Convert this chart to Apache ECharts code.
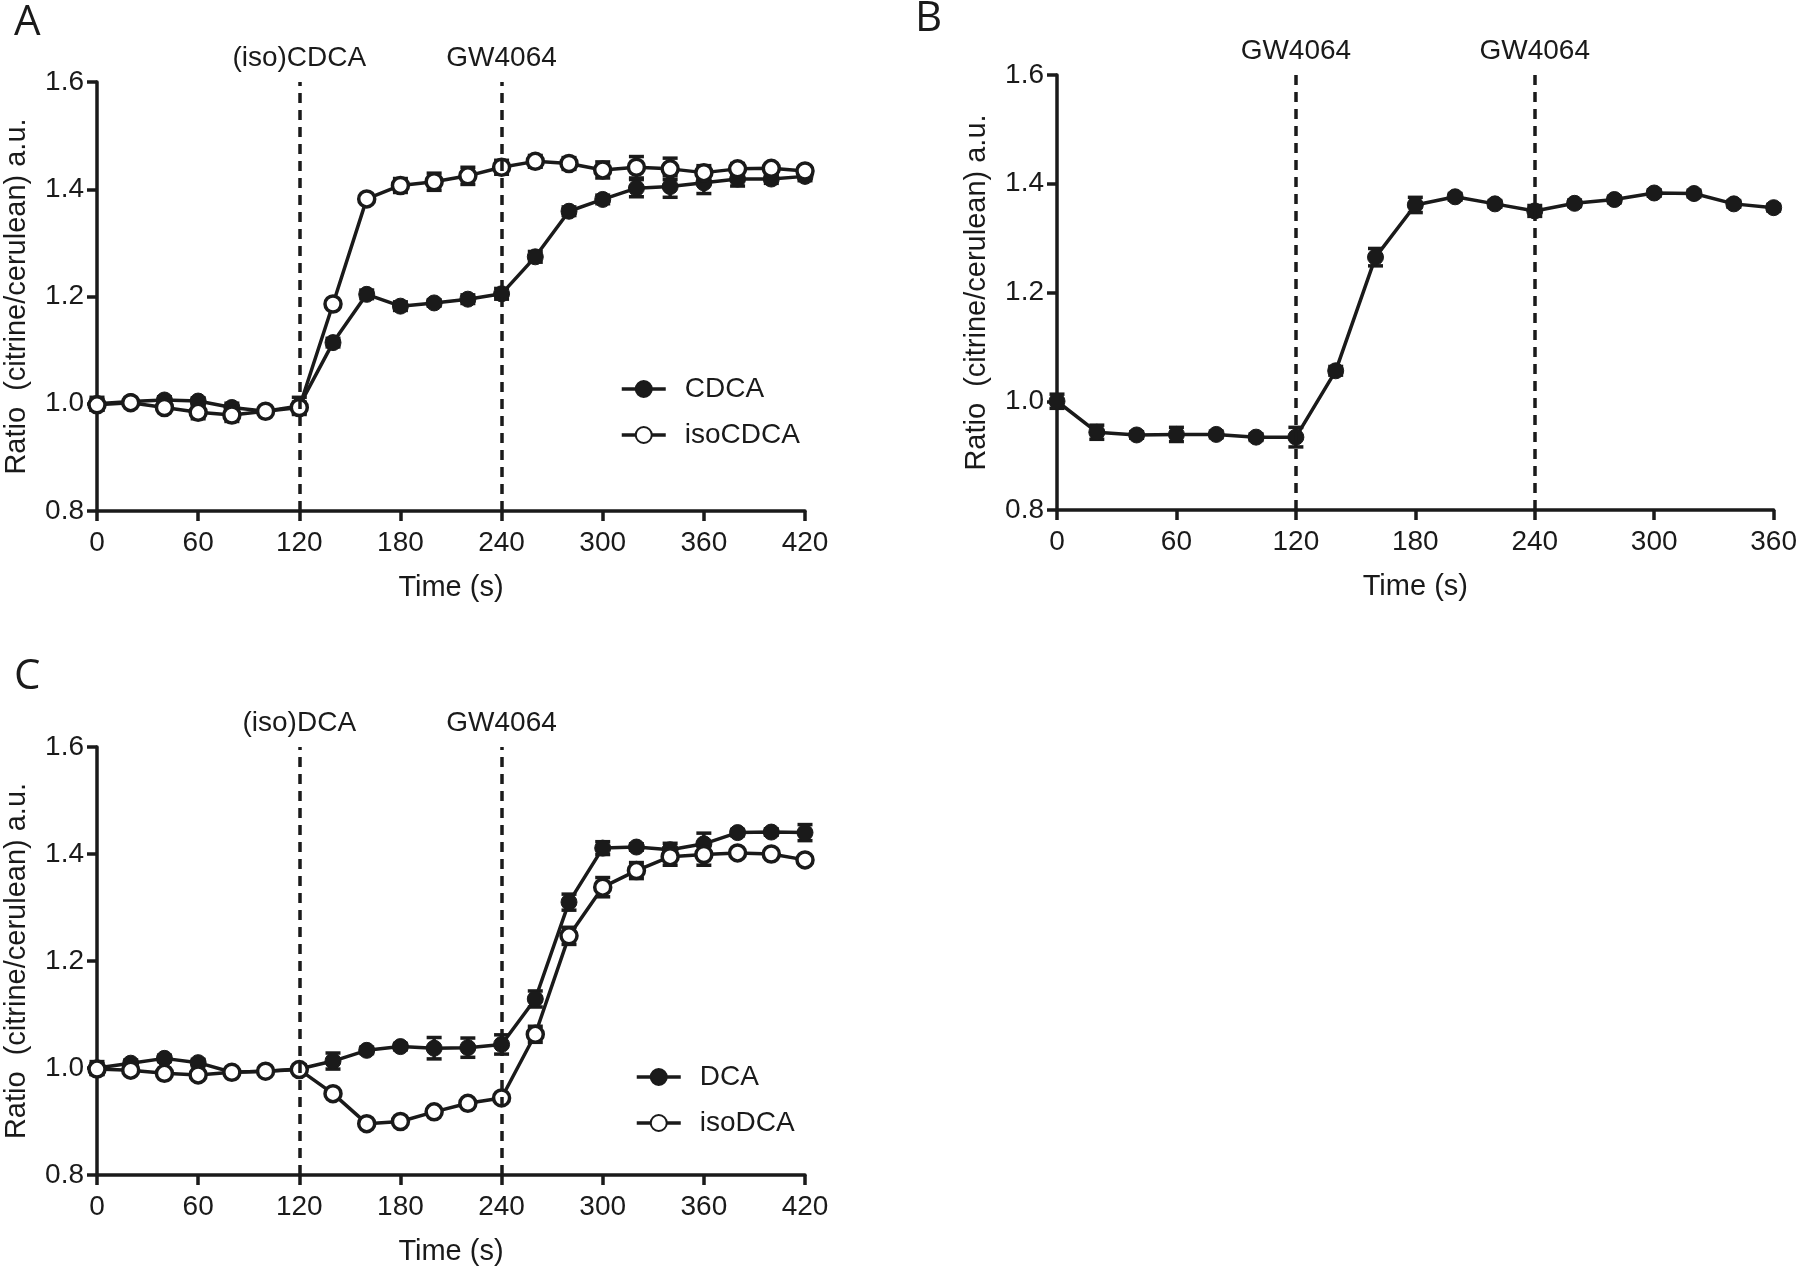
<!DOCTYPE html>
<html>
<head>
<meta charset="utf-8">
<script src="https://cdn.jsdelivr.net/npm/echarts@6/dist/echarts.min.js"></script>
<style>
html,body{margin:0;padding:0;background:#fff;}
#chart{width:1800px;height:1270px;}
</style>
</head>
<body>
<div id="chart"></div>
<script>
// ---------- DATA ----------
const timesA = [0,20,40,60,80,100,120,140,160,180,200,220,240,260,280,300,320,340,360,380,400,420];
const cdca    = [1.000,1.004,1.007,1.005,0.993,0.986,0.996,1.114,1.204,1.182,1.188,1.195,1.205,1.274,1.359,1.381,1.402,1.405,1.412,1.419,1.419,1.424];
const cdcaErr = [0.012,0.006,0.006,0.006,0.008,0.006,0.016,0.008,0.008,0.008,0.006,0.008,0.010,0.010,0.008,0.008,0.016,0.020,0.020,0.013,0.008,0.008];
const isoCdca    = [0.998,1.002,0.993,0.984,0.979,0.986,0.993,1.186,1.382,1.407,1.414,1.425,1.441,1.452,1.448,1.436,1.441,1.438,1.431,1.438,1.439,1.434];
const isoCdcaErr = [0.010,0.006,0.008,0.012,0.012,0.006,0.010,0.006,0.006,0.013,0.016,0.016,0.013,0.011,0.011,0.015,0.020,0.020,0.013,0.010,0.008,0.008];

const timesB = [0,20,40,60,80,100,120,140,160,180,200,220,240,260,280,300,320,340,360];
const gw     = [1.000,0.943,0.938,0.939,0.939,0.934,0.934,1.056,1.265,1.361,1.376,1.363,1.350,1.364,1.371,1.383,1.382,1.363,1.356];
const gwErr  = [0.013,0.013,0.006,0.013,0.006,0.006,0.018,0.008,0.016,0.014,0.006,0.006,0.010,0.006,0.006,0.006,0.006,0.006,0.006];

const timesC = [0,20,40,60,80,100,120,140,160,180,200,220,240,260,280,300,320,340,360,380,400,420];
const dca    = [1.000,1.009,1.018,1.010,0.992,0.994,0.998,1.013,1.033,1.040,1.037,1.038,1.044,1.129,1.310,1.411,1.413,1.408,1.419,1.440,1.441,1.440];
const dcaErr = [0.012,0.006,0.006,0.006,0.006,0.006,0.008,0.015,0.006,0.006,0.020,0.018,0.018,0.015,0.015,0.012,0.006,0.012,0.020,0.006,0.006,0.015];
const isoDca    = [0.998,0.996,0.990,0.987,0.992,0.994,0.997,0.952,0.896,0.900,0.918,0.934,0.944,1.063,1.247,1.338,1.369,1.395,1.399,1.402,1.400,1.389];
const isoDcaErr = [0.010,0.006,0.006,0.006,0.006,0.006,0.006,0.006,0.006,0.006,0.006,0.006,0.006,0.015,0.016,0.018,0.015,0.016,0.020,0.006,0.006,0.006];

const treatA = [[120,'(iso)CDCA'],[240,'GW4064']];
const treatB = [[120,'GW4064'],[240,'GW4064']];
const treatC = [[120,'(iso)DCA'],[240,'GW4064']];

const panelLetters = ['A','B','C'];
const yTitle = 'Ratio  (citrine/cerulean) a.u.';
const xTitle = 'Time (s)';

// ---------- STYLE ----------
const INK = '#1a1a1a';
const FONT = '"Liberation Sans", Arial, sans-serif';
const LW = 3.5;

const chart = echarts.init(document.getElementById('chart'), null, {renderer:'canvas'});

function xAxisCfg(gridIndex, max){
  return {
    type:'value', gridIndex, min:0, max, interval:60,
    name:xTitle, nameLocation:'middle', nameGap:62,
    nameTextStyle:{fontFamily:FONT, fontSize:29, color:INK},
    axisLine:{show:true, onZero:false, lineStyle:{color:INK, width:LW}},
    axisTick:{show:true, length:10, lineStyle:{color:INK, width:LW}},
    axisLabel:{fontFamily:FONT, fontSize:28, color:INK, margin:18},
    splitLine:{show:false}
  };
}
function yAxisCfg(gridIndex){
  return {
    type:'value', gridIndex, min:0.8, max:1.6, interval:0.2,
    name:yTitle, nameLocation:'middle', nameGap:66,
    nameTextStyle:{fontFamily:FONT, fontSize:29, color:INK},
    axisLine:{show:true, onZero:false, lineStyle:{color:INK, width:LW}},
    axisTick:{show:true, length:10, lineStyle:{color:INK, width:LW}},
    axisLabel:{fontFamily:FONT, fontSize:28, color:INK, margin:13, formatter:v=>v.toFixed(1)},
    splitLine:{show:false}
  };
}

function zip(xs, ys){ return xs.map((x,i)=>[x, ys[i]]); }
function zipErr(xs, ys, es){ return xs.map((x,i)=>[x, ys[i], es[i]]); }

function lineSeries(name, idx, xs, ys, open){
  return {
    type:'line', name, xAxisIndex:idx, yAxisIndex:idx,
    data:zip(xs, ys), symbol:'circle', symbolSize:16, showAllSymbol:true,
    clip:false, z:4,
    lineStyle:{color:INK, width:LW},
    itemStyle: open ? {color:'#ffffff', borderColor:INK, borderWidth:LW}
                    : {color:INK, borderColor:INK, borderWidth:1},
    emphasis:{disabled:true}
  };
}

function errSeries(idx, xs, ys, es){
  return {
    type:'custom', xAxisIndex:idx, yAxisIndex:idx, z:2, clip:false, silent:true,
    data:zipErr(xs, ys, es),
    encode:{x:0, y:1},
    renderItem:function(params, api){
      const x = api.value(0), y = api.value(1), e = api.value(2);
      const t = api.coord([x, y+e]);
      const b = api.coord([x, y-e]);
      const hw = 7.5;
      const st = {stroke:INK, lineWidth:LW};
      return {type:'group', children:[
        {type:'line', shape:{x1:t[0],y1:t[1],x2:b[0],y2:b[1]}, style:st},
        {type:'line', shape:{x1:t[0]-hw,y1:t[1],x2:t[0]+hw,y2:t[1]}, style:st},
        {type:'line', shape:{x1:b[0]-hw,y1:b[1],x2:b[0]+hw,y2:b[1]}, style:st}
      ]};
    }
  };
}

function markSeries(idx, treat){
  return {
    type:'line', xAxisIndex:idx, yAxisIndex:idx, data:[], silent:true,
    markLine:{
      symbol:'none', silent:true, animation:false,
      lineStyle:{color:INK, width:LW, type:[10,7]},
      label:{show:true, position:'end', distance:10, formatter:p=>p.name,
             fontFamily:FONT, fontSize:28, color:INK},
      data: treat.map(t=>[{coord:[t[0],0.8], name:t[1]},{coord:[t[0],1.6]}])
    }
  };
}

function legendCfg(names, left, top){
  return {data:names, left, top, orient:'vertical', itemGap:18,
    itemWidth:44, itemHeight:20, selectedMode:false,
    lineStyle:{width:LW},
    textStyle:{fontFamily:FONT, fontSize:28, color:INK, padding:[0,0,0,14]}};
}

const option = {
  animation:false,
  backgroundColor:'#ffffff',
  textStyle:{fontFamily:FONT, color:INK},
  grid:[
    {left:97, right:995, top:82, bottom:759, containLabel:false},
    {left:1057, right:26, top:75, bottom:760, containLabel:false},
    {left:97, right:995, top:747, bottom:95, containLabel:false}
  ],
  xAxis:[xAxisCfg(0,420), xAxisCfg(1,360), xAxisCfg(2,420)],
  yAxis:[yAxisCfg(0), yAxisCfg(1), yAxisCfg(2)],
  legend:[
    legendCfg(['CDCA','isoCDCA'], 615, 370),
    legendCfg(['DCA','isoDCA'], 630, 1058)
  ],
  graphic:[
    {type:'text', left:14, top:2, style:{text:panelLetters[0], font:'42px "Open Sans", sans-serif', fill:INK}},
    {type:'text', left:915, top:-2, style:{text:panelLetters[1], font:'42px "Open Sans", sans-serif', fill:INK}},
    {type:'text', left:14, top:656, style:{text:panelLetters[2], font:'42px "Open Sans", sans-serif', fill:INK}}
  ],
  series:[
    markSeries(0, treatA),
    errSeries(0, timesA, cdca, cdcaErr),
    errSeries(0, timesA, isoCdca, isoCdcaErr),
    lineSeries('CDCA', 0, timesA, cdca, false),
    lineSeries('isoCDCA', 0, timesA, isoCdca, true),

    markSeries(1, treatB),
    errSeries(1, timesB, gw, gwErr),
    lineSeries('GW4064', 1, timesB, gw, false),

    markSeries(2, treatC),
    errSeries(2, timesC, dca, dcaErr),
    errSeries(2, timesC, isoDca, isoDcaErr),
    lineSeries('DCA', 2, timesC, dca, false),
    lineSeries('isoDCA', 2, timesC, isoDca, true)
  ]
};
chart.setOption(option);
</script>
</body>
</html>
